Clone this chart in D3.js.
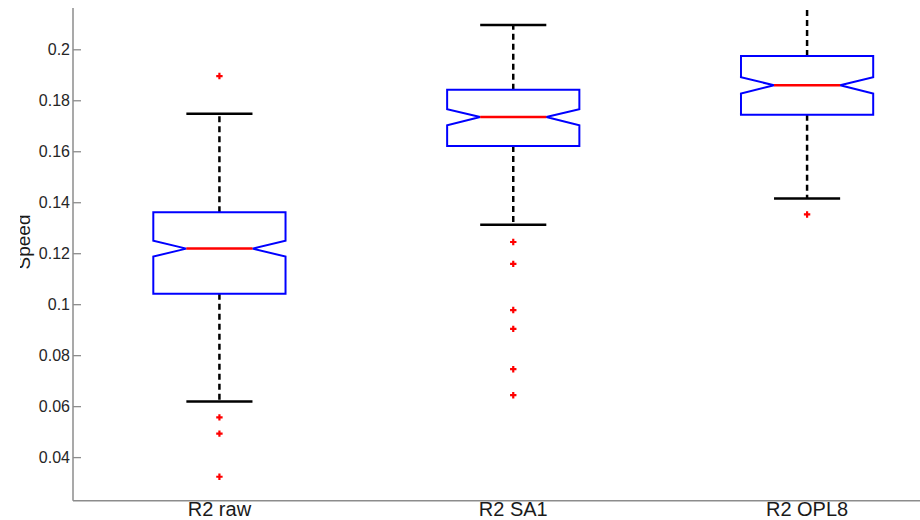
<!DOCTYPE html>
<html>
<head>
<meta charset="utf-8">
<script src="https://cdn.jsdelivr.net/npm/d3@7"></script>
<style>
  html, body { margin: 0; padding: 0; background: #ffffff; }
  svg { display: block; }
  text { font-family: "Liberation Sans", Arial, sans-serif; }
</style>
</head>
<body>
<div id="chart"></div>
<script>
// Speed distribution per run (notched box plot)
const categories = ["R2 raw", "R2 SA1", "R2 OPL8"];
const q1        = [0.1041, 0.1621, 0.1743];
const medians   = [0.1218, 0.1734, 0.1859];
const q3        = [0.1361, 0.1841, 0.1974];
const notchLo   = [0.1187, 0.1702, 0.1826];
const notchHi   = [0.1249, 0.1765, 0.1890];
const whiskerLo = [0.0618, 0.1312, 0.1415];
const whiskerHi = [0.1747, 0.2095, 0.2185];
const outliers  = [
  [0.1895, 0.0556, 0.0492, 0.0323],
  [0.1244, 0.1158, 0.0977, 0.0903, 0.0745, 0.0643],
  [0.1352]
];
const yTickValues = [0.04, 0.06, 0.08, 0.10, 0.12, 0.14, 0.16, 0.18, 0.20];
const yTickLabels = ["0.04", "0.06", "0.08", "0.1", "0.12", "0.14", "0.16", "0.18", "0.2"];

const W = 920, H = 520;
const plotLeft = 73, plotTop = 8, plotBottom = 500.7;

const svg = d3.select("#chart").append("svg")
  .attr("width", W).attr("height", H);

const defs = svg.append("defs");
defs.append("clipPath").attr("id", "plot-clip")
  .append("rect").attr("x", plotLeft).attr("y", plotTop)
  .attr("width", W - plotLeft).attr("height", plotBottom - plotTop);
defs.append("clipPath").attr("id", "label-clip")
  .append("rect").attr("x", 20).attr("y", 0).attr("width", W).attr("height", H);

const x = d3.scaleLinear().domain([0.5, 3.5]).range([72.5, 954]);
const y = d3.scaleLinear().domain([0.0229, 0.2162]).range([plotBottom, plotTop]);

const boxHalf = 0.225;   // half box width (x units)
const capHalf = 0.1125;  // half whisker-cap width
const notchIn = 0.1125;  // notch indentation per side

const data = categories.map((c, i) => ({
  name: c, pos: i + 1,
  q1: q1[i], med: medians[i], q3: q3[i],
  nlo: notchLo[i], nhi: notchHi[i],
  wlo: whiskerLo[i], whi: whiskerHi[i],
  out: outliers[i]
}));

const plot = svg.append("g").attr("clip-path", "url(#plot-clip)");

const groups = plot.selectAll("g.box").data(data).enter().append("g").attr("class", "box");

// dashed whiskers
groups.append("line")
  .attr("x1", d => x(d.pos)).attr("x2", d => x(d.pos))
  .attr("y1", d => y(d.q3)).attr("y2", d => y(d.whi))
  .attr("stroke", "#000").attr("stroke-width", 2.5).attr("stroke-dasharray", "6,4");
groups.append("line")
  .attr("x1", d => x(d.pos)).attr("x2", d => x(d.pos))
  .attr("y1", d => y(d.q1)).attr("y2", d => y(d.wlo))
  .attr("stroke", "#000").attr("stroke-width", 2.5).attr("stroke-dasharray", "6,4");

// whisker caps
groups.append("line")
  .attr("x1", d => x(d.pos - capHalf)).attr("x2", d => x(d.pos + capHalf))
  .attr("y1", d => y(d.whi)).attr("y2", d => y(d.whi))
  .attr("stroke", "#000").attr("stroke-width", 2.5);
groups.append("line")
  .attr("x1", d => x(d.pos - capHalf)).attr("x2", d => x(d.pos + capHalf))
  .attr("y1", d => y(d.wlo)).attr("y2", d => y(d.wlo))
  .attr("stroke", "#000").attr("stroke-width", 2.5);

// notched box outline
groups.append("path")
  .attr("d", d => {
    const l = d.pos - boxHalf, r = d.pos + boxHalf;
    const pts = [
      [l, d.q3], [r, d.q3], [r, d.nhi], [r - notchIn, d.med], [r, d.nlo],
      [r, d.q1], [l, d.q1], [l, d.nlo], [l + notchIn, d.med], [l, d.nhi]
    ];
    return d3.line().x(p => x(p[0])).y(p => y(p[1]))(pts) + "Z";
  })
  .attr("fill", "none").attr("stroke", "#0000ff").attr("stroke-width", 2);

// median
groups.append("line")
  .attr("x1", d => x(d.pos - boxHalf + notchIn)).attr("x2", d => x(d.pos + boxHalf - notchIn))
  .attr("y1", d => y(d.med)).attr("y2", d => y(d.med))
  .attr("stroke", "#ff0000").attr("stroke-width", 2.5);

// outliers as '+' markers
groups.selectAll("path.out").data(d => d.out.map(v => ({ pos: d.pos, v })))
  .enter().append("path").attr("class", "out")
  .attr("d", d => {
    const cx = x(d.pos), cy = y(d.v), s = 3.2;
    return `M${cx - s},${cy}H${cx + s}M${cx},${cy - s}V${cy + s}`;
  })
  .attr("stroke", "#ff0000").attr("stroke-width", 2.2);

// y axis (ticks point inward)
const yAxis = d3.axisLeft(y)
  .tickValues(yTickValues)
  .tickFormat((d, i) => yTickLabels[i])
  .tickSize(-8).tickPadding(3).tickSizeOuter(0);
const gy = svg.append("g").attr("transform", `translate(${plotLeft},0)`).call(yAxis);
gy.attr("font-size", null).attr("font-family", null);
gy.select(".domain").remove();
gy.selectAll(".tick line").attr("stroke", "#8c8c8c").attr("stroke-width", 1.3);
gy.selectAll(".tick text").attr("fill", "#262626").style("font-size", "16px");

// axis lines
svg.append("line").attr("x1", plotLeft).attr("x2", plotLeft)
  .attr("y1", plotTop).attr("y2", plotBottom)
  .attr("stroke", "#8c8c8c").attr("stroke-width", 1.5);
svg.append("line").attr("x1", plotLeft).attr("x2", W)
  .attr("y1", plotBottom).attr("y2", plotBottom)
  .attr("stroke", "#8c8c8c").attr("stroke-width", 1.5);

// category labels
svg.selectAll("text.cat").data(data).enter().append("text").attr("class", "cat")
  .attr("x", d => x(d.pos)).attr("y", 515.5)
  .attr("text-anchor", "middle").attr("fill", "#1a1a1a")
  .style("font-size", "20px")
  .text(d => d.name);

// y axis title
svg.append("g").attr("clip-path", "url(#label-clip)")
  .append("text")
  .attr("transform", "translate(29.5,242) rotate(-90)")
  .attr("text-anchor", "middle").attr("fill", "#1a1a1a")
  .style("font-size", "19px")
  .text("Speed");
</script>
</body>
</html>
